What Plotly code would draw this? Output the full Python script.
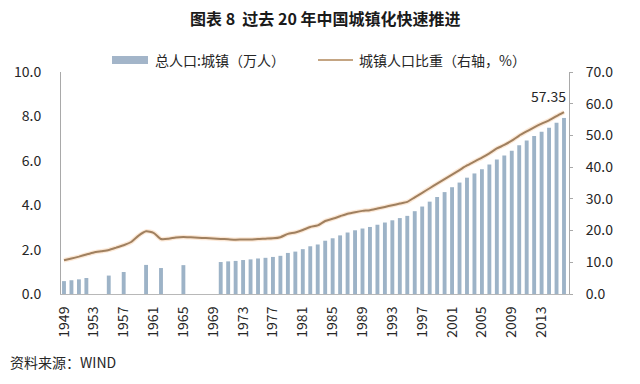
import plotly.graph_objects as go

years = list(range(1949, 2017))

# Urban population (亿, shown against left axis); None = no bar drawn
urban_pop = {
    1949: 0.58, 1950: 0.62, 1951: 0.66, 1952: 0.72, 1955: 0.83, 1957: 0.99,
    1960: 1.31, 1962: 1.17, 1965: 1.30,
    1970: 1.44, 1971: 1.47, 1972: 1.49, 1973: 1.53, 1974: 1.56, 1975: 1.60,
    1976: 1.63, 1977: 1.67, 1978: 1.72, 1979: 1.85, 1980: 1.91, 1981: 2.02,
    1982: 2.15, 1983: 2.23, 1984: 2.40, 1985: 2.51, 1986: 2.64, 1987: 2.77,
    1988: 2.87, 1989: 2.95, 1990: 3.02, 1991: 3.12, 1992: 3.22, 1993: 3.32,
    1994: 3.42, 1995: 3.52, 1996: 3.73, 1997: 3.94, 1998: 4.16, 1999: 4.37,
    2000: 4.59, 2001: 4.81, 2002: 5.02, 2003: 5.24, 2004: 5.43, 2005: 5.62,
    2006: 5.83, 2007: 6.06, 2008: 6.24, 2009: 6.45, 2010: 6.70, 2011: 6.91,
    2012: 7.12, 2013: 7.31, 2014: 7.49, 2015: 7.71, 2016: 7.93,
}
bar_values = [urban_pop.get(y) for y in years]

# Urbanization ratio (%), right axis
urban_ratio = [
    10.64, 11.18, 11.78, 12.46, 13.10, 13.50, 13.90, 14.62, 15.39, 16.40,
    18.41, 19.75, 19.29, 17.33, 17.40, 17.85, 17.98, 17.86, 17.74, 17.62,
    17.50, 17.38, 17.26, 17.13, 17.20, 17.16, 17.34, 17.44, 17.55, 17.92,
    18.96, 19.39, 20.16, 21.13, 21.62, 23.01, 23.71, 24.52, 25.32, 25.81,
    26.21, 26.41, 26.94, 27.46, 27.99, 28.51, 29.04, 30.48, 31.91, 33.35,
    34.78, 36.22, 37.66, 39.09, 40.53, 41.76, 42.99, 44.34, 45.89, 46.99,
    48.34, 49.95, 51.27, 52.57, 53.73, 54.77, 56.10, 57.35,
]

tick_years = list(range(1949, 2017, 4))
left_ticks = [0, 2, 4, 6, 8, 10]
right_ticks = [0, 10, 20, 30, 40, 50, 60, 70]

title_text = "图表 8  过去 20 年中国城镇化快速推进"
bar_name = "总人口:城镇（万人）"
line_name = "城镇人口比重（右轴，%）"
source_text = "资料来源：WIND"

FONT = "Noto Sans CJK SC, Noto Sans, sans-serif"
BAR_COLOR = "#9db3c7"
LINE_COLOR = "#a0805f"
TEXT = "#262626"

fig = go.Figure()
fig.add_trace(go.Bar(x=years, y=bar_values, width=0.52, marker=dict(color=BAR_COLOR, line=dict(width=0)),
                     name=bar_name, yaxis="y"))
fig.add_trace(go.Scatter(x=years, y=urban_ratio, mode="lines", yaxis="y2",
                         line=dict(color="rgba(248,205,165,0.45)", width=4.5, shape="spline", smoothing=0.6),
                         hoverinfo="skip", showlegend=False))
fig.add_trace(go.Scatter(x=years, y=urban_ratio, mode="lines", yaxis="y2", name=line_name,
                         line=dict(color=LINE_COLOR, width=2, shape="spline", smoothing=0.6)))

fig.update_layout(
    width=640, height=384,
    margin=dict(l=61, r=71, t=72, b=90),
    paper_bgcolor="white", plot_bgcolor="white",
    showlegend=False,
    font=dict(family=FONT, size=14, color=TEXT),
    xaxis=dict(range=[1948.6, 2016.67], tickmode="array", tickvals=tick_years,
               ticktext=[str(y) for y in tick_years], tickangle=-90,
               showgrid=False, zeroline=False, showline=True, linecolor="#b8b8b8", linewidth=1,
               ticks="", ticklabelstandoff=6, tickfont=dict(size=14, color=TEXT), automargin=False),
    yaxis=dict(range=[0, 10], tickvals=left_ticks, tickformat=".1f", showgrid=False, zeroline=False,
               showline=True, linecolor="#a9a9a9", linewidth=1, ticks="", ticklabelstandoff=16,
               tickfont=dict(size=14, color=TEXT), automargin=False),
    yaxis2=dict(range=[0, 70], tickvals=right_ticks, tickformat=".1f", overlaying="y", side="right",
                showgrid=False, zeroline=False, showline=True, linecolor="#a9a9a9", linewidth=1,
                ticks="outside", ticklen=3, tickcolor="#a9a9a9", ticklabelstandoff=10,
                tickfont=dict(size=14, color=TEXT), automargin=False),
    bargap=0.4,
)

# Title
fig.add_annotation(text="<b>" + title_text + "</b>", xref="paper", yref="paper", x=0.5, y=1,
                   xanchor="center", yanchor="middle", yshift=54, xshift=10, showarrow=False,
                   font=dict(size=16, color="#1a1a1a", family=FONT))

# Manual legend (pixel positions converted to paper coords)
plot_w = 640 - 61 - 71
plot_h = 384 - 72 - 90
def px(x):
    return (x - 61) / plot_w
def py(y):
    return (384 - 90 - y) / plot_h

fig.add_shape(type="rect", xref="paper", yref="paper", x0=px(112), x1=px(148), y0=py(64), y1=py(56),
              fillcolor="#a3b5c9", line=dict(width=0))
fig.add_annotation(text=bar_name, xref="paper", yref="paper", x=px(153), y=py(60), xanchor="left",
                   yanchor="middle", showarrow=False, font=dict(size=14, color=TEXT, family=FONT))
fig.add_shape(type="line", xref="paper", yref="paper", x0=px(318), x1=px(353), y0=py(60), y1=py(60),
              line=dict(color="#c4a583", width=2))
fig.add_annotation(text=line_name, xref="paper", yref="paper", x=px(357), y=py(60), xanchor="left",
                   yanchor="middle", showarrow=False, font=dict(size=14, color=TEXT, family=FONT))

# Last value label
fig.add_annotation(text=f"{urban_ratio[-1]:.2f}", x=years[-1], y=urban_ratio[-1], xref="x", yref="y2",
                   xanchor="right", yanchor="bottom", xshift=4, yshift=4, showarrow=False,
                   font=dict(size=14, color=TEXT, family=FONT))

# Source
fig.add_annotation(text=source_text, xref="paper", yref="paper", x=px(8), y=py(362), xanchor="left",
                   yanchor="middle", showarrow=False, font=dict(size=14, color=TEXT, family=FONT))

fig.write_html("out.html", config={"displayModeBar": False},
               post_script="document.body.style.margin='0';")
